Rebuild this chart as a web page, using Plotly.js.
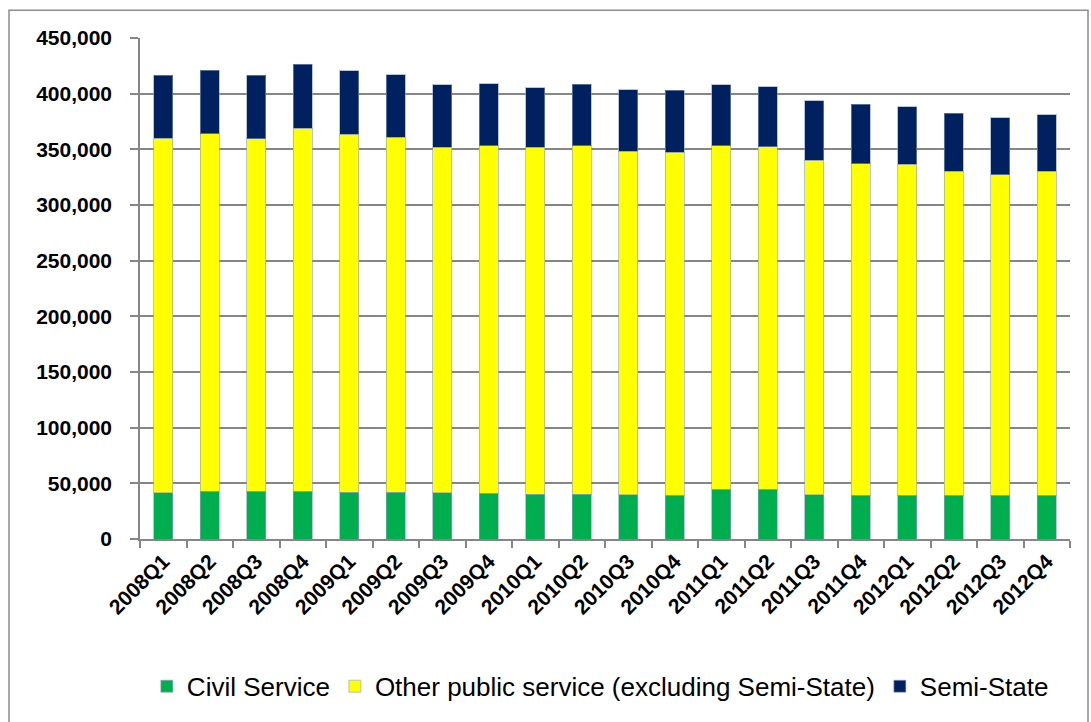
<!DOCTYPE html>
<html>
<head>
<meta charset="utf-8">
<script src="https://cdn.plot.ly/plotly-3.0.1.min.js"></script>
<style>
  html, body { margin: 0; padding: 0; background: #fff; }
  #grafico { width: 1091px; height: 722px; }
</style>
</head>
<body>
<div id="grafico"></div>
<script>
// Public service employment by quarter, stacked by sector

const quarters = [
    '2008Q1', '2008Q2', '2008Q3', '2008Q4',
    '2009Q1', '2009Q2', '2009Q3', '2009Q4',
    '2010Q1', '2010Q2', '2010Q3', '2010Q4',
    '2011Q1', '2011Q2', '2011Q3', '2011Q4',
    '2012Q1', '2012Q2', '2012Q3', '2012Q4'
];

const civilService = [
    41500, 42700, 43000, 42700, 42100, 42100, 41500, 40900, 40000, 40000,
    39700, 39400, 44500, 44800, 39700, 39100, 39400, 39100, 39400, 39100
];

const otherPublic = [
    318500, 321100, 316600, 326200, 321500, 318800, 310500, 312500, 312000, 313100,
    308700, 308100, 308600, 307700, 300700, 298000, 297000, 291400, 287800, 291100
];

const semiState = [
    56500, 57200, 56900, 57700, 56800, 56200, 56200, 55700, 53500, 55400,
    55000, 55400, 55100, 53600, 53200, 53300, 51800, 51800, 51200, 50900
];

const yTicks = [0, 50000, 100000, 150000, 200000, 250000, 300000, 350000, 400000, 450000];

const barLine = { color: 'rgba(140,160,190,0.6)', width: 1 };

const traces = [
    {
        x: quarters, y: civilService, type: 'bar', name: 'Civil Service',
        marker: { color: '#00AE4F', line: barLine }
    },
    {
        x: quarters, y: otherPublic, type: 'bar', name: 'Other public service (excluding Semi-State)',
        marker: { color: '#FFFF00', line: barLine }
    },
    {
        x: quarters, y: semiState, type: 'bar', name: 'Semi-State',
        marker: { color: '#002060', line: barLine }
    }
];

// marco exterior del gráfico (en coordenadas de papel)
const plotW = 930, plotH = 504;
const border = {
    type: 'rect', xref: 'paper', yref: 'paper',
    x0: (9 - 140) / plotW, x1: (1088 - 140) / plotW,
    y0: (542 - 730) / plotH, y1: (542 - 10) / plotH,
    line: { color: '#8c8c8c', width: 1.5 }
};

const layout = {
    width: 1091,
    height: 722,
    margin: { l: 140, r: 21, t: 38, b: 180 },
    barmode: 'stack',
    bargap: 0.59,
    paper_bgcolor: '#fff',
    plot_bgcolor: '#fff',
    font: { family: 'Liberation Sans, Arial, sans-serif', color: '#000' },
    xaxis: {
        type: 'category',
        tickangle: -45,
        tickson: 'boundaries',
        ticks: 'outside',
        ticklen: 7,
        tickcolor: '#868686',
        tickwidth: 1.5,
        showline: true,
        linecolor: '#868686',
        linewidth: 1.5,
        showgrid: false,
        tickfont: { size: 21, weight: 'bold', color: '#000' }
    },
    yaxis: {
        range: [0, 450000],
        tickvals: yTicks,
        ticktext: yTicks.map(v => v.toLocaleString('en-US')),
        ticks: 'outside',
        ticklen: 8,
        tickcolor: '#868686',
        tickwidth: 1.5,
        showline: true,
        linecolor: '#868686',
        linewidth: 1.5,
        gridcolor: '#868686',
        gridwidth: 1.5,
        zeroline: false,
        ticklabelstandoff: 14,
        tickfont: { size: 21, weight: 'bold', color: '#000' }
    },
    showlegend: true,
    legend: {
        orientation: 'h',
        x: 0.495, xanchor: 'center',
        y: -0.294, yanchor: 'middle',
        font: { size: 26, color: '#000' },
        traceorder: 'normal',
        itemwidth: 30
    },
    shapes: [border]
};

Plotly.newPlot('grafico', traces, layout, { displayModeBar: false });
</script>
</body>
</html>
